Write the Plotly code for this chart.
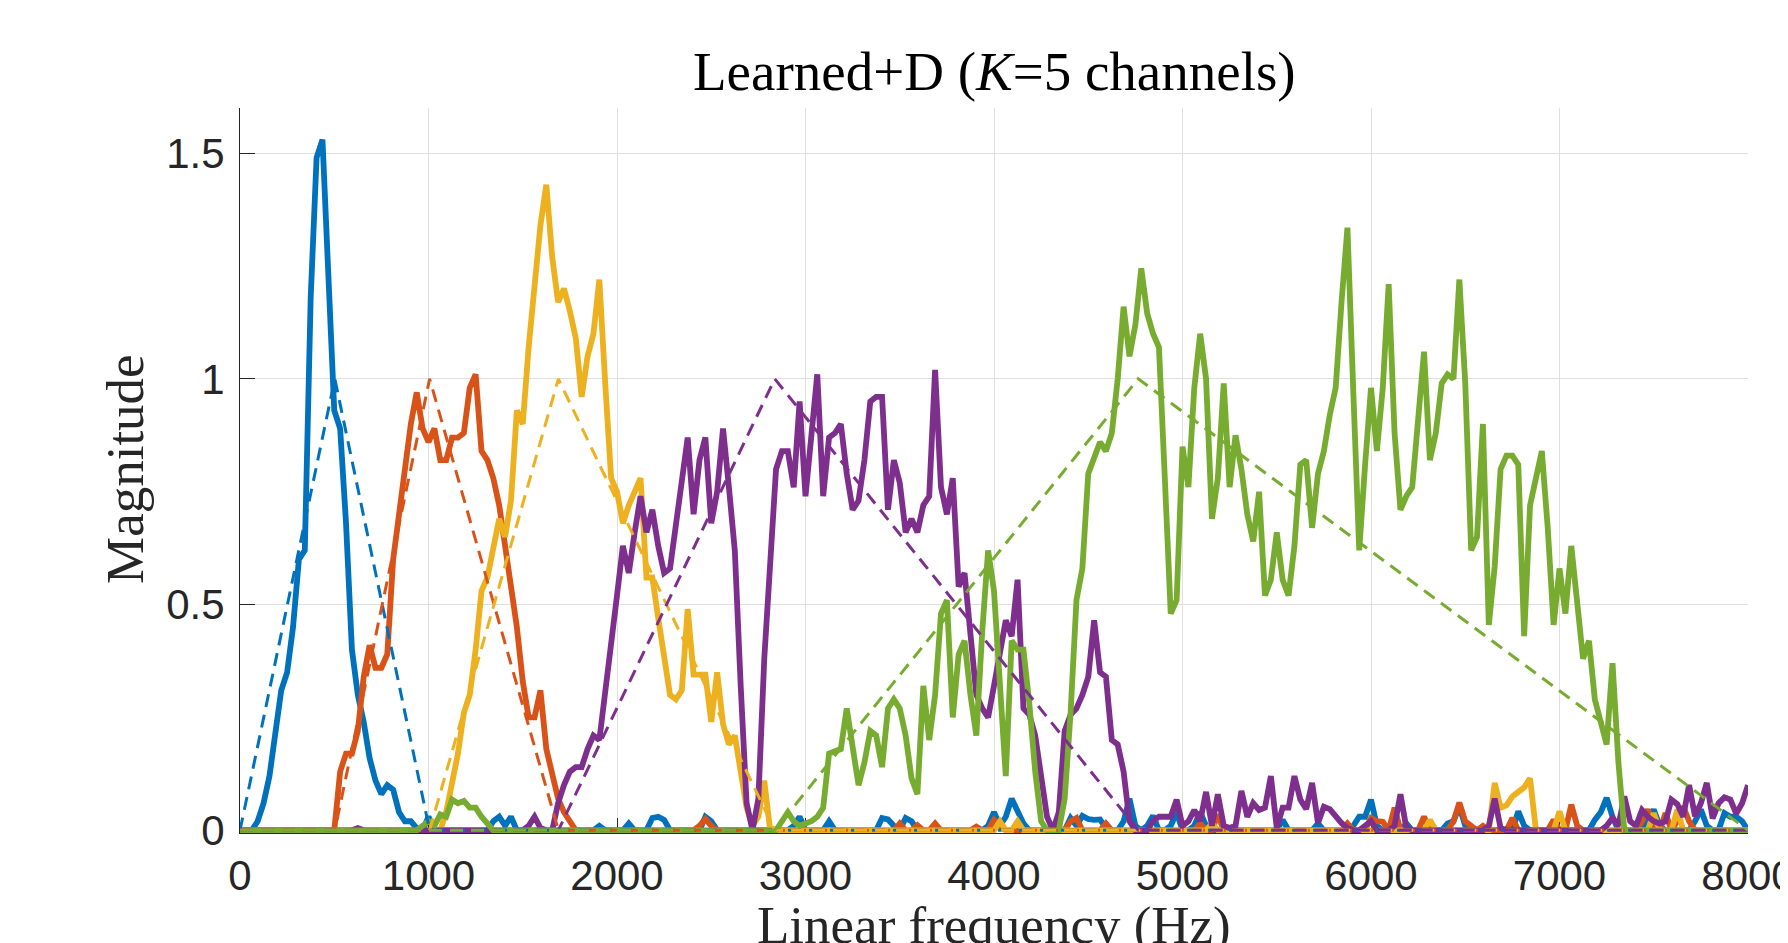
import numpy as np
import plotly.graph_objects as go

# ---------------- data ----------------
BIN_HZ = 31.25          # frequency step of the learned filter responses
N_BINS = 257            # 0 .. 8000 Hz

CHANNEL_COLORS = ["#0072BD", "#D95319", "#EDB120", "#7E2F8E", "#77AC30"]

# learned filter magnitudes (solid lines), one value per frequency bin
BLUE = [
    0, 0, 0, 0.02, 0.06, 0.12, 0.22, 0.31, 0.35, 0.45, 0.60, 0.62, 1.18, 1.49, 1.53, 1.22,
    0.93, 0.89, 0.68, 0.40, 0.30, 0.24, 0.16, 0.11, 0.08, 0.10, 0.09, 0.04, 0.02, 0.02, 0.005, 0,
    0.03, 0, 0, 0, 0, 0, 0, 0, 0, 0, 0, 0.02, 0.03, 0.01, 0.03, 0,
    0, 0, 0, 0, 0, 0, 0, 0, 0, 0, 0, 0, 0, 0.01, 0, 0,
    0, 0, 0.015, 0, 0, 0, 0.027, 0.03, 0.023, 0, 0, 0, 0, 0, 0, 0.03,
    0.02, 0, 0, 0, 0, 0, 0, 0, 0, 0, 0, 0, 0, 0, 0.01, 0.03,
    0, 0, 0, 0, 0.02, 0, 0, 0, 0, 0, 0, 0, 0, 0.027, 0.024, 0.01,
    0, 0.027, 0.02, 0, 0, 0, 0, 0, 0, 0, 0, 0, 0, 0, 0, 0.01,
    0.04, 0.01, 0.03, 0.07, 0.045, 0.015, 0, 0, 0, 0, 0, 0, 0, 0.027, 0.01, 0.032,
    0.025, 0.023, 0.024, 0.005, 0, 0, 0.02, 0.07, 0.01, 0, 0.01, 0.032, 0, 0, 0.01, 0.04,
    0, 0, 0.01, 0.04, 0.01, 0, 0, 0, 0, 0, 0, 0, 0, 0, 0, 0,
    0, 0.023, 0, 0, 0, 0, 0, 0.015, 0, 0, 0, 0, 0, 0.01, 0.03, 0.03,
    0.068, 0.01, 0, 0, 0, 0, 0.015, 0, 0, 0, 0, 0, 0, 0.015, 0.02, 0.053,
    0.01, 0, 0, 0, 0, 0, 0, 0, 0, 0.042, 0.01, 0, 0, 0, 0, 0,
    0, 0, 0, 0, 0, 0, 0.023, 0.04, 0.072, 0.03, 0, 0, 0, 0, 0, 0.02,
    0.046, 0.01, 0, 0, 0, 0, 0, 0.02, 0.046, 0.01, 0, 0, 0.038, 0.03, 0.03, 0.02,
    0,
]

ORANGE = [
    0, 0, 0, 0, 0, 0, 0, 0, 0, 0, 0, 0, 0, 0, 0, 0,
    0, 0.13, 0.17, 0.17, 0.22, 0.34, 0.41, 0.36, 0.36, 0.39, 0.60, 0.70, 0.80, 0.90, 0.97, 0.89,
    0.86, 0.89, 0.82, 0.82, 0.87, 0.87, 0.88, 0.98, 1.01, 0.84, 0.82, 0.78, 0.72, 0.63, 0.53, 0.45,
    0.33, 0.25, 0.25, 0.31, 0.18, 0.13, 0.07, 0.04, 0.02, 0, 0, 0, 0, 0, 0, 0,
    0, 0, 0, 0, 0, 0, 0, 0, 0, 0, 0, 0, 0, 0, 0.01, 0.025,
    0.01, 0, 0, 0, 0, 0, 0, 0, 0, 0, 0, 0, 0, 0, 0, 0,
    0, 0, 0, 0, 0, 0, 0, 0, 0, 0, 0, 0, 0, 0, 0, 0,
    0.015, 0, 0, 0.011, 0, 0, 0.015, 0, 0, 0, 0, 0, 0, 0.008, 0, 0,
    0.023, 0.01, 0, 0, 0, 0, 0, 0, 0, 0, 0, 0, 0, 0.02, 0.027, 0,
    0, 0, 0, 0.015, 0, 0, 0, 0, 0, 0, 0, 0, 0, 0, 0, 0,
    0, 0, 0, 0.015, 0, 0, 0.035, 0, 0, 0, 0, 0, 0, 0, 0, 0,
    0, 0, 0, 0, 0, 0, 0, 0, 0, 0, 0, 0, 0.015, 0, 0, 0,
    0.027, 0.02, 0.019, 0, 0.05, 0, 0, 0, 0, 0.03, 0, 0, 0, 0, 0.02, 0.061,
    0.02, 0.01, 0, 0.01, 0, 0, 0, 0, 0.027, 0, 0, 0, 0, 0, 0, 0.023,
    0, 0, 0.057, 0.01, 0, 0, 0, 0, 0, 0, 0, 0, 0, 0, 0.02, 0.046,
    0.01, 0, 0.038, 0, 0.02, 0.053, 0.02, 0, 0, 0, 0, 0, 0, 0, 0, 0,
    0,
]

YELLOW = [
    0, 0, 0, 0, 0, 0, 0, 0, 0, 0, 0, 0, 0, 0, 0, 0,
    0, 0, 0, 0, 0, 0, 0, 0, 0, 0, 0, 0, 0, 0, 0, 0,
    0, 0, 0, 0.04, 0.10, 0.17, 0.26, 0.30, 0.40, 0.53, 0.56, 0.62, 0.69, 0.65, 0.73, 0.93,
    0.90, 1.07, 1.21, 1.34, 1.43, 1.27, 1.17, 1.20, 1.15, 1.09, 0.96, 1.05, 1.10, 1.22, 0.99, 0.78,
    0.75, 0.68, 0.72, 0.75, 0.78, 0.56, 0.56, 0.47, 0.38, 0.30, 0.29, 0.31, 0.49, 0.345, 0.345, 0.345,
    0.24, 0.35, 0.235, 0.19, 0.21, 0.12, 0.05, 0.01, 0.03, 0.11, 0, 0, 0, 0, 0, 0,
    0, 0, 0, 0, 0, 0, 0, 0, 0, 0, 0, 0, 0, 0, 0, 0,
    0, 0, 0, 0, 0, 0, 0, 0, 0, 0, 0, 0, 0, 0, 0, 0,
    0, 0.02, 0, 0, 0.02, 0, 0, 0, 0, 0, 0, 0, 0, 0, 0, 0,
    0, 0, 0, 0, 0, 0, 0, 0, 0, 0, 0, 0, 0, 0, 0, 0,
    0, 0, 0, 0, 0, 0.015, 0, 0, 0, 0, 0, 0, 0, 0, 0, 0,
    0, 0, 0, 0, 0, 0, 0, 0, 0, 0, 0, 0, 0, 0, 0, 0,
    0, 0, 0, 0, 0, 0, 0, 0, 0, 0, 0.023, 0, 0, 0, 0, 0,
    0, 0, 0, 0, 0, 0.105, 0.05, 0.055, 0.075, 0.085, 0.095, 0.115, 0, 0, 0, 0,
    0.042, 0, 0, 0, 0, 0, 0, 0, 0, 0, 0, 0, 0, 0, 0, 0,
    0.038, 0, 0, 0, 0.046, 0, 0, 0, 0, 0, 0, 0, 0, 0, 0, 0,
    0,
]

PURPLE = [
    0, 0, 0, 0, 0, 0, 0, 0, 0, 0, 0, 0, 0, 0, 0, 0,
    0, 0, 0, 0, 0.005, 0, 0, 0, 0, 0, 0, 0, 0, 0, 0, 0,
    0, 0, 0, 0, 0, 0, 0, 0, 0, 0, 0, 0, 0, 0, 0, 0,
    0, 0.01, 0.03, 0.005, 0, 0, 0.06, 0.10, 0.13, 0.14, 0.14, 0.18, 0.21, 0.20, 0.30, 0.42,
    0.52, 0.63, 0.57, 0.66, 0.74, 0.66, 0.71, 0.63, 0.57, 0.58, 0.67, 0.78, 0.87, 0.70, 0.82, 0.87,
    0.68, 0.75, 0.89, 0.76, 0.62, 0.32, 0.06, 0, 0.07, 0.38, 0.58, 0.80, 0.84, 0.84, 0.76, 0.95,
    0.74, 0.89, 1.01, 0.74, 0.87, 0.88, 0.90, 0.79, 0.71, 0.73, 0.82, 0.95, 0.96, 0.96, 0.71, 0.82,
    0.77, 0.66, 0.69, 0.66, 0.72, 0.74, 1.02, 0.76, 0.70, 0.78, 0.54, 0.57, 0.42, 0.30, 0.27, 0.25,
    0.32, 0.40, 0.465, 0.43, 0.555, 0.27, 0.256, 0.21, 0.12, 0.03, 0, 0.04, 0.22, 0.256, 0.27, 0.30,
    0.34, 0.465, 0.35, 0.34, 0.20, 0.19, 0.13, 0.02, 0, 0, 0, 0.02, 0.03, 0.03, 0.03, 0.068,
    0.01, 0.02, 0.045, 0.02, 0.085, 0.01, 0.08, 0.01, 0.005, 0.01, 0.087, 0.03, 0.06, 0.045, 0.05, 0.12,
    0.005, 0.05, 0.05, 0.12, 0.068, 0.047, 0.105, 0.016, 0.052, 0.047, 0.03, 0.016, 0.005, 0, 0, 0.01,
    0.02, 0, 0, 0, 0.01, 0.08, 0.005, 0, 0, 0, 0, 0, 0, 0, 0, 0,
    0, 0, 0, 0, 0.01, 0.07, 0.005, 0, 0, 0, 0, 0, 0, 0, 0, 0,
    0, 0, 0, 0, 0, 0, 0, 0, 0.01, 0.027, 0.01, 0.075, 0.02, 0.01, 0.045, 0.03,
    0.02, 0.015, 0.02, 0.068, 0.058, 0.03, 0.10, 0.031, 0.06, 0.105, 0.026, 0.06, 0.073, 0.068, 0.037, 0.06,
    0.10,
]

GREEN = [
    0, 0, 0, 0, 0, 0, 0, 0, 0, 0, 0, 0, 0, 0, 0, 0,
    0, 0, 0, 0, 0, 0, 0, 0, 0, 0, 0, 0, 0, 0, 0, 0.01,
    0.02, 0.01, 0.035, 0.03, 0.068, 0.06, 0.065, 0.05, 0.05, 0.03, 0.015, 0, 0, 0, 0, 0,
    0, 0, 0, 0, 0, 0, 0, 0, 0, 0, 0, 0, 0, 0, 0, 0,
    0, 0, 0, 0, 0, 0, 0, 0, 0, 0, 0, 0, 0, 0, 0, 0,
    0, 0, 0, 0, 0, 0, 0, 0, 0, 0, 0, 0, 0.02, 0.04, 0.02, 0.01,
    0.015, 0.02, 0.03, 0.05, 0.17, 0.175, 0.18, 0.27, 0.18, 0.10, 0.15, 0.22, 0.21, 0.14, 0.27, 0.29,
    0.27, 0.21, 0.115, 0.08, 0.32, 0.20, 0.30, 0.48, 0.51, 0.25, 0.39, 0.42, 0.30, 0.21, 0.44, 0.62,
    0.53, 0.31, 0.12, 0.42, 0.40, 0.40, 0.28, 0.13, 0.02, 0, 0, 0, 0.07, 0.26, 0.51, 0.58,
    0.79, 0.83, 0.86, 0.84, 0.88, 1.00, 1.16, 1.05, 1.12, 1.245, 1.145, 1.10, 1.07, 0.78, 0.48, 0.51,
    0.85, 0.76, 0.98, 1.10, 1.00, 0.69, 0.78, 0.99, 0.76, 0.875, 0.80, 0.70, 0.64, 0.75, 0.52, 0.555,
    0.66, 0.555, 0.52, 0.63, 0.81, 0.82, 0.67, 0.79, 0.84, 0.92, 0.98, 1.17, 1.335, 0.97, 0.62, 0.81,
    0.98, 0.84, 0.98, 1.21, 0.88, 0.71, 0.74, 0.76, 0.91, 1.06, 0.82, 0.88, 0.99, 1.01, 1.00, 1.22,
    0.99, 0.62, 0.65, 0.90, 0.455, 0.585, 0.80, 0.83, 0.83, 0.81, 0.43, 0.72, 0.78, 0.84, 0.67, 0.455,
    0.58, 0.48, 0.63, 0.51, 0.38, 0.42, 0.29, 0.24, 0.19, 0.37, 0.15, 0, 0, 0, 0, 0,
    0, 0, 0, 0, 0, 0, 0, 0, 0, 0, 0, 0, 0, 0, 0, 0,
    0,
]

LEARNED = [BLUE, ORANGE, YELLOW, PURPLE, GREEN]

# initial (dashed) triangular filters: band edges in Hz, unit peak
TRIANGLE_EDGES_HZ = [0, 503, 1006, 1689, 2837, 4765, 8000]
TRIANGLE_PEAK = 1.0

X_TICKS = [0, 1000, 2000, 3000, 4000, 5000, 6000, 7000, 8000]
Y_TICKS = [0, 0.5, 1, 1.5]
Y_TICK_TEXT = ["0", "0.5", "1", "1.5"]

TITLE = "Learned+D (<i>K</i>=5 channels)"
X_LABEL = "Linear frequency (Hz)"
Y_LABEL = "Magnitude"

for s in LEARNED:
    assert len(s) == N_BINS

freqs = np.arange(N_BINS) * BIN_HZ

# ---------------- figure ----------------
fig = go.Figure()

for vals, col in zip(LEARNED, CHANNEL_COLORS):
    fig.add_trace(go.Scatter(x=freqs, y=vals, mode="lines",
                             line=dict(color=col, width=5.8), showlegend=False,
                             hoverinfo="skip"))

for k, col in enumerate(CHANNEL_COLORS):
    lo, mid, hi = TRIANGLE_EDGES_HZ[k], TRIANGLE_EDGES_HZ[k + 1], TRIANGLE_EDGES_HZ[k + 2]
    fig.add_trace(go.Scatter(x=[X_TICKS[0], lo, mid, hi, X_TICKS[-1]],
                             y=[0, 0, TRIANGLE_PEAK, 0, 0], mode="lines",
                             line=dict(color=col, width=3, dash="13px,8px"),
                             showlegend=False, hoverinfo="skip"))

AX_COL = "#262626"
GRID_COL = "#dfdfdf"
TICK_FONT = dict(family="Liberation Sans, Arial, sans-serif", size=42, color=AX_COL)
SERIF = "Liberation Serif, Times New Roman, serif"

fig.update_layout(
    width=1788, height=943,
    margin=dict(l=232, r=48, t=100, b=118, pad=0),
    paper_bgcolor="white", plot_bgcolor="white",
    showlegend=False,
    xaxis=dict(range=[0, 8000], tickvals=X_TICKS, ticks="inside", ticklen=15,
               tickcolor=AX_COL, tickwidth=1, showline=True, linecolor=AX_COL,
               linewidth=1, showgrid=True, gridcolor=GRID_COL, gridwidth=1,
               zeroline=False, tickfont=TICK_FONT, automargin=False,
               ticklabelstandoff=6, ticklabeloverflow="allow",
               layer="below traces"),
    yaxis=dict(range=[-0.006, 1.6], tickvals=Y_TICKS, ticktext=Y_TICK_TEXT,
               ticks="inside", ticklen=15, tickcolor=AX_COL, tickwidth=1,
               showline=True, linecolor=AX_COL, linewidth=1, showgrid=True,
               gridcolor=GRID_COL, gridwidth=1, zeroline=False, tickfont=TICK_FONT,
               automargin=False, ticklabelstandoff=6, ticklabeloverflow="allow",
               layer="below traces"),
    annotations=[
        dict(text=TITLE, xref="paper", yref="paper", x=0.5, y=1.051,
             xanchor="center", yanchor="middle", showarrow=False,
             font=dict(family=SERIF, size=55, color="black")),
        dict(text=X_LABEL, xref="paper", yref="paper", x=0.5, y=-0.128,
             xanchor="center", yanchor="middle", showarrow=False,
             font=dict(family=SERIF, size=53, color=AX_COL)),
        dict(text=Y_LABEL, xref="paper", yref="paper", x=-0.0763, y=0.502,
             xanchor="center", yanchor="middle", showarrow=False, textangle=-90,
             font=dict(family=SERIF, size=53, color=AX_COL)),
    ],
)

fig.write_html("out.html")
